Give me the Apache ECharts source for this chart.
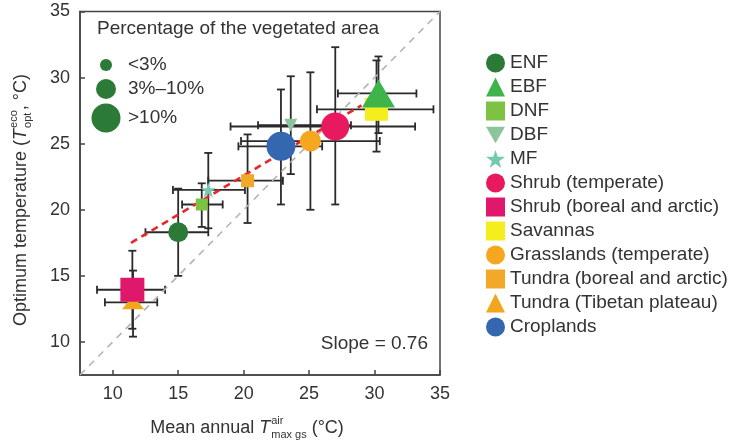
<!DOCTYPE html>
<html>
<head>
<meta charset="utf-8">
<script src="https://cdn.jsdelivr.net/npm/echarts@6/dist/echarts.min.js"></script>
<style>
html,body{margin:0;padding:0;background:#fff;}
#chart{width:729px;height:442px;}
</style>
</head>
<body>
<div id="chart"></div>
<script>
// ---- data ----
const categories = ['ENF','EBF','DNF','DBF','MF','Shrub (temperate)','Shrub (boreal and arctic)','Savannas','Grasslands (temperate)','Tundra (boreal and arctic)','Tundra (Tibetan plateau)','Croplands'];
const xValues = [15.0, 30.3, 16.8, 23.6, 17.3, 27.0, 11.5, 30.15, 25.1, 20.3, 11.55, 22.85];
const yValues = [18.3, 28.8, 20.4, 26.4, 21.5, 26.3, 13.95, 27.6, 25.2, 22.2, 13.0, 24.8];
const xLow   = [12.5, 27.2, 15.3, 21.1, 14.6, 19.0, 8.8, 25.6, 19.8, 17.3, 9.4, 19.6];
const xHigh  = [17.3, 33.2, 18.4, 28.2, 20.1, 33.1, 14.0, 34.5, 30.4, 23.0, 13.4, 26.0];
const yLow   = [15.0, 25.8, 18.7, 22.7, 18.6, 20.4, 11.0, 24.4, 20.0, 19.0, 10.4, 20.4];
const yHigh  = [21.6, 31.6, 22.0, 30.1, 24.3, 32.3, 16.9, 31.3, 30.4, 25.7, 15.4, 29.1];
const fitLineX = [11.4, 29.0];
const fitLineY = [17.5, 27.9];
const oneToOneX = [7.5, 35];
const oneToOneY = [7.5, 35];
const tickValues = [10, 15, 20, 25, 30, 35];
const sizeLegendLabels = ['<3%', '3%\u201310%', '>10%'];
const sizeLegendTitle = 'Percentage of the vegetated area';
const slopeLabel = 'Slope = 0.76';

// ---- styles ----
const STAR = 'path://M50,0 L61.2,34.5 L97.6,34.5 L68.2,55.9 L79.4,90.5 L50,69.1 L20.6,90.5 L31.8,55.9 L2.4,34.5 L38.8,34.5 Z';
const TRI_DOWN = 'path://M0,0 L100,0 L50,86.6 Z';
const colors = ['#2b7a37','#3db54b','#7dc242','#8cc49c','#74c9b0','#e8195e','#e0186c','#f4ef1c','#f5a81f','#f2a92a','#f2a61c','#3567b0'];
const symbols = ['circle','triangle','rect',TRI_DOWN,STAR,'circle','rect','rect','circle','rect','triangle','circle'];
const sizes = [20,[33,28],12,13,15,28,24,23,21,13,[22,14],29];
const zs = [3,5,3,3,3,4,5,3,4,4,3,4];
const FONT = '"Liberation Sans", Arial, Helvetica, sans-serif';
const TXT = '#333';

const chart = echarts.init(document.getElementById('chart'), null, {renderer:'canvas'});

const errRows = categories.map((c, i) => [xValues[i], yValues[i], xLow[i], xHigh[i], yLow[i], yHigh[i]]);

function renderErr(params, api) {
  const x = api.value(0), y = api.value(1);
  const pL = api.coord([api.value(2), y]), pR = api.coord([api.value(3), y]);
  const pB = api.coord([x, api.value(4)]), pT = api.coord([x, api.value(5)]);
  const c = 4;
  const st = {stroke:'#2a2a2a', lineWidth:1.8, fill:null};
  const ln = (x1,y1,x2,y2) => ({type:'line', shape:{x1,y1,x2,y2}, style:st});
  return {type:'group', children:[
    ln(pL[0],pL[1],pR[0],pR[1]),
    ln(pL[0],pL[1]-c,pL[0],pL[1]+c),
    ln(pR[0],pR[1]-c,pR[0],pR[1]+c),
    ln(pB[0],pB[1],pT[0],pT[1]),
    ln(pB[0]-c,pB[1],pB[0]+c,pB[1]),
    ln(pT[0]-c,pT[1],pT[0]+c,pT[1])
  ]};
}

const scatterSeries = categories.map((name, i) => ({
  name, type:'scatter', z: zs[i],
  symbol: symbols[i], symbolSize: sizes[i],
  itemStyle:{color: colors[i], opacity:1},
  data: [[xValues[i], yValues[i]]],
  emphasis:{disabled:true}
}));

// text measuring
const mctx = document.createElement('canvas').getContext('2d');
function tw(t, size, style) { mctx.font = (style||'normal') + ' ' + size + 'px ' + FONT; return mctx.measureText(t).width; }

function buildTitle(parts, cx, cy, rotation) {
  const [pre, T, sup, sub, tail] = parts;
  const fs = 18, ss = 11;
  const w1 = tw(pre, fs), wT = tw(T, fs, 'italic'), wS = Math.max(tw(sup, ss), tw(sub, ss)) + 1, w3 = tw(tail, fs);
  const total = w1 + wT + wS + w3;
  let x0 = -total / 2;
  const mk = (text, x, y, size, style) => ({type:'text', x, y, style:{text, fontSize:size, fontFamily:FONT, fontStyle:style||'normal', fill:TXT, textAlign:'left', textVerticalAlign:'middle', align:'left', verticalAlign:'middle'}});
  const children = [
    mk(pre, x0, 0, fs),
    mk(T, x0 + w1, 0, fs, 'italic'),
    mk(sup, x0 + w1 + wT + 1, -7, ss),
    mk(sub, x0 + w1 + wT + 1, 7, ss),
    mk(tail, x0 + w1 + wT + wS, 0, fs)
  ];
  return {type:'group', x:cx, y:cy, rotation: rotation, children, silent:true};
}

const sizeR = [6, 10, 14.5];
const sizeY = [65, 89, 118];
const graphics = [
  {type:'text', x:97, y:29, silent:true, style:{text:sizeLegendTitle, fontSize:19, fontFamily:FONT, fill:TXT, textVerticalAlign:'middle', verticalAlign:'middle'}},
  ...sizeLegendLabels.map((t, i) => ({type:'circle', silent:true, shape:{cx:106, cy:sizeY[i], r:sizeR[i]}, style:{fill:'#2b7a37'}})),
  ...sizeLegendLabels.map((t, i) => ({type:'text', silent:true, x:128, y:sizeY[i], style:{text:t, fontSize:19, fontFamily:FONT, fill:TXT, textVerticalAlign:'middle', verticalAlign:'middle'}})),
  {type:'text', x:428, y:344, silent:true, style:{text:slopeLabel, fontSize:19, fontFamily:FONT, fill:TXT, textAlign:'right', align:'right', textVerticalAlign:'middle', verticalAlign:'middle'}},
  buildTitle(['Mean annual ', 'T', 'air', 'max gs', ' (\u00B0C)'], 247, 428, 0),
  buildTitle(['Optimum temperature (', 'T', 'eco', 'opt', ', \u00B0C)'], 21, 200, Math.PI / 2)
];

const axisCommon = {
  type:'value', min:7.5, max:35,
  axisLine:{show:true, lineStyle:{color:'#444', width:1.5}},
  axisTick:{show:true, inside:true, length:5, customValues: tickValues, lineStyle:{color:'#444', width:1.5}},
  axisLabel:{customValues: tickValues, fontSize:18, fontFamily:FONT, color:TXT, margin:10},
  splitLine:{show:false}
};

chart.setOption({
  animation:false,
  backgroundColor:'#fff',
  grid:{left:80, right:289, top:11.5, bottom:67, show:true, borderColor:'#444', borderWidth:1.5, backgroundColor:'transparent'},
  xAxis: Object.assign({}, axisCommon),
  yAxis: Object.assign({}, axisCommon),
  legend:{
    orient:'vertical', left:481, top:48.5, itemWidth:19, itemHeight:19, itemGap:5,
    data: categories,
    textStyle:{fontSize:19, fontFamily:FONT, color:TXT},
    selectedMode:false
  },
  graphic: graphics,
  series: [
    {type:'custom', name:'err', z:1, renderItem: renderErr, data: errRows, encode:{x:[0,2,3], y:[1,4,5]}, silent:true},
    {type:'line', name:'1:1', z:2, symbol:'none', silent:true, data: oneToOneX.map((x,i)=>[x, oneToOneY[i]]), lineStyle:{color:'#b3b3b3', width:1.6, type:[7,6]}},
    {type:'line', name:'fit', z:2, symbol:'none', silent:true, data: fitLineX.map((x,i)=>[x, fitLineY[i]]), lineStyle:{color:'#e8262b', width:2.6, type:[7,5]}},
    ...scatterSeries
  ]
});
</script>
</body>
</html>
